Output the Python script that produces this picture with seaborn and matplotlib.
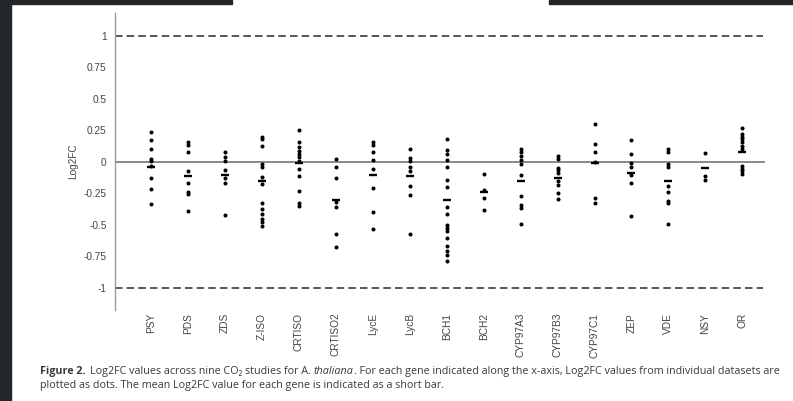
import pandas as pd
import matplotlib.pyplot as plt
import seaborn as sns
from matplotlib.patches import Rectangle

genes = ['PSY', 'PDS', 'ZDS', 'Z-ISO', 'CRTISO', 'CRTISO2', 'LycE', 'LycB', 'BCH1',
         'BCH2', 'CYP97A3', 'CYP97B3', 'CYP97C1', 'ZEP', 'VDE', 'NSY', 'OR']

psy = [0.235, 0.175, 0.10, 0.025, 0.01, -0.03, -0.13, -0.215, -0.335]
pds = [0.155, 0.135, 0.08, -0.07, -0.165, -0.24, -0.255, -0.39]
zds = [0.08, 0.035, 0.01, -0.065, -0.13, -0.17, -0.42]
ziso = [0.2, 0.185, 0.125, -0.015, -0.04, -0.12, -0.175, -0.33, -0.375, -0.415, -0.45, -0.475, -0.505]
crtiso = [0.25, 0.155, 0.115, 0.09, 0.06, 0.035, 0.01, -0.06, -0.11, -0.23, -0.325, -0.35]
crtiso2 = [0.02, -0.04, -0.13, -0.32, -0.355, -0.57, -0.675]
lyce = [0.155, 0.135, 0.08, 0.015, -0.06, -0.205, -0.40, -0.53]
lycb = [0.10, 0.03, 0.005, -0.04, -0.075, -0.19, -0.265, -0.57]
bch1 = [0.185, 0.095, 0.065, 0.015, -0.04, -0.145, -0.20, -0.36, -0.415, -0.50, -0.525,
        -0.55, -0.60, -0.67, -0.705, -0.735, -0.79]
bch2 = [-0.095, -0.225, -0.29, -0.38]
cyp97a3 = [0.105, 0.075, 0.05, 0.015, -0.015, -0.10, -0.27, -0.34, -0.365, -0.49]
cyp97b3 = [0.05, 0.02, -0.045, -0.065, -0.085, -0.155, -0.18, -0.25, -0.295]
cyp97c1 = [0.30, 0.145, 0.08, 0.0, -0.285, -0.325]
zep = [0.175, 0.06, -0.005, -0.04, -0.10, -0.17, -0.43]
vde = [0.10, 0.08, -0.015, -0.04, -0.19, -0.235, -0.31, -0.33, -0.495]
nsy = [0.07, -0.11, -0.14]
orange = [0.27, 0.22, 0.20, 0.185, 0.16, 0.13, 0.10, -0.03, -0.055, -0.075, -0.095]

gene_values = [psy, pds, zds, ziso, crtiso, crtiso2, lyce, lycb, bch1, bch2,
               cyp97a3, cyp97b3, cyp97c1, zep, vde, nsy, orange]

# mean bars
mean_values = [-0.04, -0.115, -0.10, -0.15, -0.01, -0.30, -0.10, -0.11, -0.305, -0.235,
               -0.15, -0.125, -0.01, -0.085, -0.155, -0.05, 0.075]

y_ticks = [1, 0.75, 0.5, 0.25, 0, -0.25, -0.5, -0.75, -1]
y_tick_labels = ['1', '0.75', '0.5', '0.25', '0', '-0.25', '-0.5', '-0.75', '-1']

rows = [(g, v) for g, vals in zip(genes, gene_values) for v in vals]
df = pd.DataFrame(rows, columns=['gene', 'Log2FC'])

plt.rcParams['font.family'] = ['Liberation Sans', 'DejaVu Sans']

fig = plt.figure(figsize=(7.93, 4.01), dpi=100)
fig.patch.set_facecolor('white')
ax = fig.add_axes([0.145, 0.227, 0.82, 0.741])

ax.axhline(0, color='#808080', lw=1.3, zorder=1)
for yv in (1, -1):
    ax.axhline(yv, xmax=0.997, color='#3a3a3a', lw=1.2, dashes=(4.5, 2.5), zorder=1)

sns.stripplot(data=df, x='gene', y='Log2FC', order=genes, jitter=False, color='black',
              size=2.9, linewidth=0, ax=ax, zorder=3)
ax.scatter(range(len(genes)), mean_values, marker='_', s=38, linewidths=1.7,
           color='black', zorder=4)

ax.set_xlim(-0.975, 16.62)
ax.set_ylim(-1.175, 1.183)
ax.set_yticks(y_ticks, y_tick_labels)
ax.tick_params(axis='y', length=0, pad=6, labelsize=7.3, labelcolor='#444444')
ax.tick_params(axis='x', length=0, pad=2, labelsize=7.3, labelcolor='#444444',
               labelrotation=90)
ax.set_xlabel('')
ax.set_ylabel('Log2FC', fontsize=7.2, color='#444444')
ax.yaxis.set_label_coords(-0.057, 0.5)

for side in ('top', 'right', 'bottom'):
    ax.spines[side].set_visible(False)
ax.spines['left'].set_color('#9a9a9a')
ax.spines['left'].set_linewidth(1.0)
ax.set_facecolor('none')

# caption
cap_font = ['Open Sans', 'DejaVu Sans']
cap_size = 7.75
cap_color = '#3a3a3a'
t1 = fig.text(40 / 793, 0.074, 'Figure 2.', fontsize=cap_size, weight='bold', color=cap_color,
              va='center', family=cap_font)
ax.annotate('Log2FC values across nine CO\u2082 studies for A. ', xy=(1, 0.5), xycoords=t1,
            xytext=(3.5, 0), textcoords='offset points', fontsize=cap_size, color=cap_color,
            va='center', family=cap_font, annotation_clip=False)
t2 = ax.texts[-1]
ax.annotate('thaliana', xy=(1, 0.5), xycoords=t2, xytext=(0, 0), textcoords='offset points',
            fontsize=cap_size, color=cap_color, va='center', style='italic', family=cap_font,
            annotation_clip=False)
t3 = ax.texts[-1]
ax.annotate('. For each gene indicated along the x-axis, Log2FC values from individual datasets are',
            xy=(1, 0.5), xycoords=t3, xytext=(0, 0), textcoords='offset points', fontsize=cap_size,
            color=cap_color, va='center', family=cap_font, annotation_clip=False)
fig.text(40 / 793, 0.039, 'plotted as dots. The mean Log2FC value for each gene is indicated as a short bar.',
         fontsize=cap_size, color=cap_color, va='center', family=cap_font)

# dark screenshot borders
border = '#23262b'
fig.add_artist(Rectangle((0, 0), 11 / 793, 1, transform=fig.transFigure, color=border, zorder=10))
fig.add_artist(Rectangle((0, 1 - 4 / 401), 232 / 793, 4 / 401, transform=fig.transFigure,
                         color=border, zorder=10))
fig.add_artist(Rectangle((549 / 793, 1 - 4 / 401), 244 / 793, 4 / 401, transform=fig.transFigure,
                         color=border, zorder=10))

plt.savefig('out.png', dpi=100)
